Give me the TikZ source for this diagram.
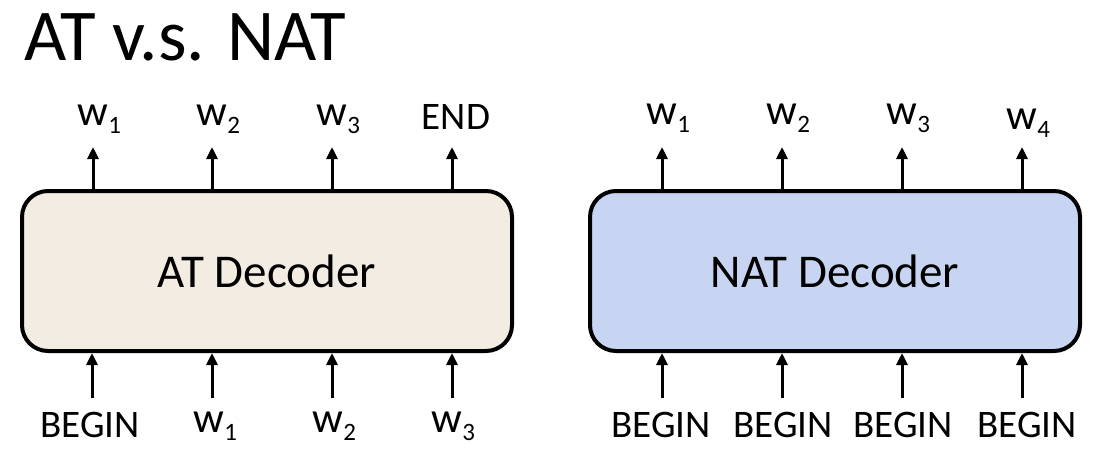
\documentclass[tikz,border=0pt]{standalone}
\usepackage{fontspec}
\setmainfont{Carlito}
\usepackage{tikz}
\usetikzlibrary{arrows.meta}
\definecolor{atfill}{RGB}{243,236,226}
\definecolor{natfill}{RGB}{200,213,242}
\def\wsub#1{w\rlap{\raisebox{-8pt}{\fontsize{25}{25}\selectfont #1}}}% w with a hanging index

\begin{document}
\begin{tikzpicture} [x=1pt,y=-1pt,
    decbox/.style={draw,line width=4pt,rounded corners=26pt,minimum width=490pt,minimum height=160pt,font=\fontsize{47}{50}\selectfont},
    tok/.style={anchor=base,inner sep=0pt,font=\fontsize{39}{42}\selectfont},
    wtok/.style={anchor=base,inner sep=0pt,font=\fontsize{43}{45}\selectfont},
    arr/.style={line width=3pt,-{Triangle[length=12pt,width=11pt]}}]
  \useasboundingbox (0,0) rectangle (1105,466);

  %title
  \node[anchor=base west,inner sep=0pt,font=\fontsize{73}{78}\selectfont] (title) at (24,60) {AT v.s. NAT};

  %draw decoders
  \node[decbox,fill=atfill] (at) at (267,271) {AT Decoder};
  \node[decbox,fill=natfill] (nat) at (835,271) {NAT Decoder};

  %AT outputs
  \node[wtok] (ato1) at (93,125) {\wsub{1}};
  \node[wtok] (ato2) at (212,125) {\wsub{2}};
  \node[wtok] (ato3) at (332,125) {\wsub{3}};
  \node[tok] (ato4) at (456,129) {END};
  \coordinate (atu1) at (93,147);
  \coordinate (atu2) at (212,147);
  \coordinate (atu3) at (332,147);
  \coordinate (atu4) at (452,147);
  \draw[arr] (atu1 |- at.north) -- (atu1);
  \draw[arr] (atu2 |- at.north) -- (atu2);
  \draw[arr] (atu3 |- at.north) -- (atu3);
  \draw[arr] (atu4 |- at.north) -- (atu4);

  %AT inputs
  \node[tok] (ati1) at (90,437) {BEGIN};
  \node[wtok] (ati2) at (209,432) {\wsub{1}};
  \node[wtok] (ati3) at (328,432) {\wsub{2}};
  \node[wtok] (ati4) at (447,432) {\wsub{3}};
  \coordinate (atd1) at (92,398);
  \coordinate (atd2) at (212,398);
  \coordinate (atd3) at (332,398);
  \coordinate (atd4) at (452,398);
  \draw[arr] (atd1) -- (atd1 |- at.south);
  \draw[arr] (atd2) -- (atd2 |- at.south);
  \draw[arr] (atd3) -- (atd3 |- at.south);
  \draw[arr] (atd4) -- (atd4 |- at.south);

  %NAT outputs
  \node[wtok] (nato1) at (662,124) {\wsub{1}};
  \node[wtok] (nato2) at (782,124) {\wsub{2}};
  \node[wtok] (nato3) at (902,124) {\wsub{3}};
  \node[wtok] (nato4) at (1022,129) {\wsub{4}};
  \coordinate (natu1) at (662,147);
  \coordinate (natu2) at (782,147);
  \coordinate (natu3) at (902,147);
  \coordinate (natu4) at (1022,147);
  \draw[arr] (natu1 |- nat.north) -- (natu1);
  \draw[arr] (natu2 |- nat.north) -- (natu2);
  \draw[arr] (natu3 |- nat.north) -- (natu3);
  \draw[arr] (natu4 |- nat.north) -- (natu4);

  %NAT inputs
  \node[tok] (nati1) at (661,437) {BEGIN};
  \node[tok] (nati2) at (783,437) {BEGIN};
  \node[tok] (nati3) at (903,437) {BEGIN};
  \node[tok] (nati4) at (1027,437) {BEGIN};
  \coordinate (natd1) at (662,398);
  \coordinate (natd2) at (782,398);
  \coordinate (natd3) at (902,398);
  \coordinate (natd4) at (1022,398);
  \draw[arr] (natd1) -- (natd1 |- nat.south);
  \draw[arr] (natd2) -- (natd2 |- nat.south);
  \draw[arr] (natd3) -- (natd3 |- nat.south);
  \draw[arr] (natd4) -- (natd4 |- nat.south);
\end{tikzpicture}
\end{document}
